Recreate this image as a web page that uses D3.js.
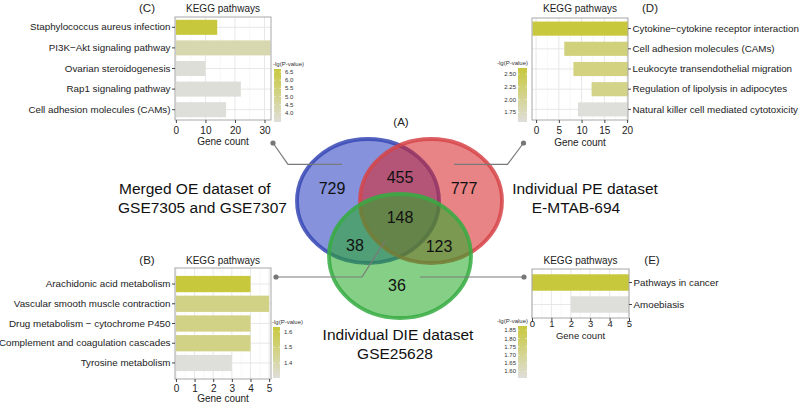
<!DOCTYPE html>
<html>
<head>
<meta charset="utf-8">
<title>Venn + KEGG pathways</title>
<style>
body { margin: 0; background: #fff; }
svg { font-family: "Liberation Sans", Arial, sans-serif; }
.axis path.domain { display: none; }
.axis line { stroke: #444; }
.axis text { fill: #222; }
</style>
</head>
<body>
<script src="https://cdn.jsdelivr.net/npm/d3@7/dist/d3.min.js"></script>
<script>
// ---- data ----
var vennLabels = [["Merged OE dataset of", "GSE7305 and GSE7307"],
                  ["Individual PE dataset", "E-MTAB-694"],
                  ["Individual DIE dataset", "GSE25628"]];
// OE only, OE&PE, PE only, all, OE&DIE, PE&DIE, DIE only
var vennCounts = [729, 455, 777, 148, 38, 123, 36];

var cNames = ["Staphylococcus aureus infection", "PI3K\u2212Akt signaling pathway", "Ovarian steroidogenesis",
              "Rap1 signaling pathway", "Cell adhesion molecules (CAMs)"];
var cCounts = [14, 32, 10, 22, 17];
var cLgP = [6.68, 4.3, 3.5, 3.48, 3.45];
var cTicks = [0, 10, 20, 30];
var cLegendTicks = [4.0, 4.5, 5.0, 5.5, 6.0, 6.5];

var dNames = ["Cytokine\u2212cytokine receptor interaction", "Cell adhesion molecules (CAMs)",
              "Leukocyte transendothelial migration", "Regulation of lipolysis in adipocytes",
              "Natural killer cell mediated cytotoxicity"];
var dCounts = [21, 14, 12, 8, 11];
var dLgP = [2.62, 2.2, 2.16, 2.1, 1.56];
var dTicks = [0, 5, 10, 15, 20];
var dLegendTicks = [1.75, 2.00, 2.25, 2.50];

var bNames = ["Arachidonic acid metabolism", "Vascular smooth muscle contraction",
              "Drug metabolism \u2212 cytochrome P450", "Complement and coagulation cascades",
              "Tyrosine metabolism"];
var bCounts = [4, 5, 4, 4, 3];
var bLgP = [1.63, 1.475, 1.475, 1.475, 1.305];
var bTicks = [0, 1, 2, 3, 4, 5];
var bLegendTicks = [1.4, 1.5, 1.6];

var eNames = ["Pathways in cancer", "Amoebiasis"];
var eCounts = [5, 3];
var eLgP = [1.876, 1.56];
var eTicks = [0, 1, 2, 3, 4, 5];
var eLegendTicks = [1.60, 1.65, 1.70, 1.75, 1.80, 1.85];

var lowCol = "#dededa", highCol = "#c8c83c";

var svg = d3.select("body").append("svg")
    .attr("width", 799)
    .attr("height", 404);

var defs = svg.append("defs");

function barPanel(o) {
  var g = svg.append("g");
  var x = d3.scaleLinear().domain(o.domain).range([o.left, o.right]);
  var y = d3.scaleBand().domain(o.names).range([o.top, o.bottom])
      .paddingInner(o.pIn).paddingOuter(o.pOut);
  var ext = d3.extent(o.lgp);
  var color = d3.scaleLinear().domain(ext).range([lowCol, highCol]);

  g.append("rect")
      .attr("x", o.left).attr("y", o.top)
      .attr("width", o.right - o.left).attr("height", o.bottom - o.top)
      .attr("fill", "#fff");

  // grid
  var minor = [];
  for (var i = 0; i < o.ticks.length - 1; i++) minor.push((o.ticks[i] + o.ticks[i + 1]) / 2);
  g.selectAll(".minor").data(minor).enter().append("line")
      .attr("x1", x).attr("x2", x).attr("y1", o.top).attr("y2", o.bottom)
      .attr("stroke", "#f1f1f1").attr("stroke-width", 0.6);
  g.selectAll(".major").data(o.ticks).enter().append("line")
      .attr("x1", x).attr("x2", x).attr("y1", o.top).attr("y2", o.bottom)
      .attr("stroke", "#e4e4e4").attr("stroke-width", 0.9);
  g.selectAll(".hgrid").data(o.names).enter().append("line")
      .attr("x1", o.left).attr("x2", o.right)
      .attr("y1", function(d) { return y(d) + y.bandwidth() / 2; })
      .attr("y2", function(d) { return y(d) + y.bandwidth() / 2; })
      .attr("stroke", "#e4e4e4").attr("stroke-width", 0.9);

  // bars (D and E grow from the right edge, as in the figure)
  function x0(i) { return o.fromRight ? Math.max(o.left, x(o.domain[1] - o.counts[i])) : Math.max(o.left, x(0)); }
  function x1(i) { return o.fromRight ? o.right : Math.min(o.right, x(o.counts[i])); }
  g.selectAll(".bar").data(o.names).enter().append("rect")
      .attr("x", function(d, i) { return x0(i); })
      .attr("width", function(d, i) { return x1(i) - x0(i); })
      .attr("y", function(d) { return y(d); })
      .attr("height", y.bandwidth())
      .attr("fill", function(d, i) { return color(o.lgp[i]); });

  g.append("rect")
      .attr("x", o.left).attr("y", o.top)
      .attr("width", o.right - o.left).attr("height", o.bottom - o.top)
      .attr("fill", "none").attr("stroke", "#a8a8a8").attr("stroke-width", 1);

  // axes
  g.append("g").attr("class", "axis")
      .attr("transform", "translate(0," + o.bottom + ")")
      .call(d3.axisBottom(x).tickValues(o.ticks).tickSize(3).tickPadding(o.xPad).tickFormat(d3.format("d")))
      .attr("font-family", null)
      .attr("font-size", o.axisFont + "px");

  var yAxis = o.fromRight ? d3.axisRight(y) : d3.axisLeft(y);
  g.append("g").attr("class", "axis")
      .attr("transform", "translate(" + (o.fromRight ? o.right : o.left) + ",0)")
      .call(yAxis.tickSize(3).tickPadding(1.5))
      .attr("font-family", null)
      .attr("font-size", "9.8px");

  g.append("text")
      .attr("x", (o.left + o.right) / 2).attr("y", o.geneY)
      .attr("text-anchor", "middle").attr("dominant-baseline", "central")
      .style("font-size", o.axisFont + "px").attr("fill", "#222")
      .text("Gene count");

  g.append("text")
      .attr("x", (o.left + o.right) / 2).attr("y", o.titleY)
      .attr("text-anchor", "middle").attr("dominant-baseline", "central")
      .style("font-size", "10px").attr("fill", "#222")
      .text("KEGG pathways");

  g.append("text")
      .attr("x", o.tagX).attr("y", o.titleY)
      .attr("text-anchor", "middle").attr("dominant-baseline", "central")
      .style("font-size", "11.5px").attr("fill", "#222")
      .text(o.tag);

  // colour bar legend
  var L = o.legend;
  var gid = "grad" + o.tag.replace(/\W/g, "");
  var grad = defs.append("linearGradient").attr("id", gid)
      .attr("x1", 0).attr("y1", 1).attr("x2", 0).attr("y2", 0);
  grad.append("stop").attr("offset", "0%").attr("stop-color", lowCol);
  grad.append("stop").attr("offset", "100%").attr("stop-color", highCol);
  var ly = d3.scaleLinear().domain(ext).range([L.y1, L.y0]);
  g.append("rect")
      .attr("x", L.x).attr("y", L.y0).attr("width", L.w).attr("height", L.y1 - L.y0)
      .attr("fill", "url(#" + gid + ")");
  g.selectAll(".ltick").data(L.ticks).enter().append("line")
      .attr("x1", L.x).attr("x2", L.x + L.w)
      .attr("y1", ly).attr("y2", ly)
      .attr("stroke", "#fff").attr("stroke-width", 0.6)
      .attr("stroke-dasharray", "1.5," + (L.w - 3));
  g.selectAll(".llab").data(L.ticks).enter().append("text")
      .attr("x", L.left ? L.x - 2 : L.x + L.w + 4)
      .attr("y", ly)
      .attr("text-anchor", L.left ? "end" : "start")
      .attr("dominant-baseline", "central")
      .style("font-size", "6px").attr("fill", "#333")
      .text(d3.format(L.fmt));
  g.append("text")
      .attr("x", L.left ? L.x + L.w + 1 : L.x - 1).attr("y", L.y0 - 5)
      .attr("text-anchor", L.left ? "end" : "start")
      .attr("dominant-baseline", "central")
      .style("font-size", "6px").attr("fill", "#333")
      .text("-lg(P-value)");
}

barPanel({ tag: "(C)", names: cNames, counts: cCounts, lgp: cLgP, ticks: cTicks,
  domain: [-0.3, 32.2], left: 175, right: 271, top: 17, bottom: 120, pIn: 0.27, pOut: 0.135,
  xPad: 3.5, axisFont: 10, geneY: 141, titleY: 8, tagX: 147, fromRight: false,
  legend: { ticks: cLegendTicks, x: 274, w: 7, y0: 69, y1: 122, left: false, fmt: ".1f" } });

barPanel({ tag: "(D)", names: dNames, counts: dCounts, lgp: dLgP, ticks: dTicks,
  domain: [-0.9, 20.2], left: 532, right: 628, top: 18, bottom: 120, pIn: 0.3, pOut: 0.175,
  xPad: 3.5, axisFont: 10, geneY: 142, titleY: 8, tagX: 650, fromRight: true,
  legend: { ticks: dLegendTicks, x: 518, w: 9, y0: 68, y1: 122, left: true, fmt: ".2f" } });

barPanel({ tag: "(B)", names: bNames, counts: bCounts, lgp: bLgP, ticks: bTicks,
  domain: [-0.05, 5.1], left: 175, right: 271, top: 268, bottom: 379, pIn: 0.175, pOut: 0.4,
  xPad: 2.5, axisFont: 10, geneY: 398.5, titleY: 260, tagX: 147, fromRight: false,
  legend: { ticks: bLegendTicks, x: 273, w: 7, y0: 327, y1: 378, left: false, fmt: ".1f" } });

barPanel({ tag: "(E)", names: eNames, counts: eCounts, lgp: eLgP, ticks: eTicks,
  domain: [0, 5], left: 532, right: 629, top: 269, bottom: 318, pIn: 0.25, pOut: 0.24,
  xPad: -0.5, axisFont: 9.5, geneY: 335, titleY: 260, tagX: 652, fromRight: true,
  legend: { ticks: eLegendTicks, x: 518, w: 9, y0: 326, y1: 378, left: true, fmt: ".2f" } });

// ---- Venn ----
var ell = [
  { cx: 368, cy: 201, fill: "rgb(40,60,190)", stroke: "#3646b4" },
  { cx: 431, cy: 201, fill: "rgb(215,35,40)", stroke: "#d64448" },
  { cx: 400, cy: 256, fill: "rgb(40,170,40)", stroke: "#36ac42" }
];
var venn = svg.append("g");
venn.selectAll("ellipse").data(ell).enter().append("ellipse")
    .attr("cx", function(d) { return d.cx; })
    .attr("cy", function(d) { return d.cy; })
    .attr("rx", 71).attr("ry", 62)
    .attr("fill", function(d) { return d.fill; })
    .attr("fill-opacity", 0.56)
    .attr("stroke", function(d) { return d.stroke; })
    .attr("stroke-opacity", 0.85)
    .attr("stroke-width", 3.8);

var countPos = [[332, 188], [400, 177], [464, 188], [400, 217], [355, 245], [439, 246.5], [397, 285]];
venn.selectAll(".cnt").data(vennCounts).enter().append("text")
    .attr("x", function(d, i) { return countPos[i][0]; })
    .attr("y", function(d, i) { return countPos[i][1]; })
    .attr("text-anchor", "middle").attr("dominant-baseline", "central")
    .style("font-size", "16px").attr("fill", "#111")
    .text(function(d) { return d; });

svg.append("text").attr("x", 401).attr("y", 122)
    .attr("text-anchor", "middle").attr("dominant-baseline", "central")
    .style("font-size", "11.5px").attr("fill", "#222").text("(A)");

var setLabelPos = [
  { anchor: "start", pts: [[119, 188], [118, 207]] },
  { anchor: "middle", pts: [[585, 188], [576, 207]] },
  { anchor: "middle", pts: [[398, 334], [395, 353]] }
];
vennLabels.forEach(function(lines, i) {
  lines.forEach(function(t, j) {
    svg.append("text")
        .attr("x", setLabelPos[i].pts[j][0]).attr("y", setLabelPos[i].pts[j][1])
        .attr("text-anchor", setLabelPos[i].anchor).attr("dominant-baseline", "central")
        .style("font-size", "15.5px").attr("fill", "#111")
        .text(t);
  });
});

// connectors
var connectors = [
  [[273, 143], [288, 164.3], [342, 164.3]],
  [[523.5, 143], [507.5, 164.3], [454, 164.3]],
  [[276, 277], [362, 277], [385, 241]],
  [[524, 277], [420, 277]]
];
var line = d3.line();
svg.selectAll(".conn").data(connectors).enter().append("path")
    .attr("d", line).attr("fill", "none")
    .attr("stroke", "#7a7a7a").attr("stroke-width", 1.2);
svg.selectAll(".dot").data(connectors).enter().append("circle")
    .attr("cx", function(d) { return d[0][0]; })
    .attr("cy", function(d) { return d[0][1]; })
    .attr("r", 2.6).attr("fill", "#777");
</script>
</body>
</html>
